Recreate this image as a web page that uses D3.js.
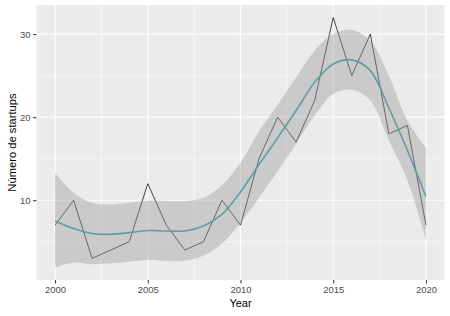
<!DOCTYPE html>
<html>
<head>
<meta charset="utf-8">
<script src="https://cdn.jsdelivr.net/npm/d3@7"></script>
<style>
  html, body { margin: 0; padding: 0; background: #ffffff; }
  svg { display: block; font-family: "Liberation Sans", Arial, sans-serif; }
</style>
</head>
<body>
<svg id="chart" width="450" height="316"></svg>
<script>
// ---- data ----
const years = [2000,2001,2002,2003,2004,2005,2006,2007,2008,2009,2010,2011,2012,2013,2014,2015,2016,2017,2018,2019,2020];
const startups = [7,10,3,4,5,12,7,4,5,10,7,15,20,17,22,32,25,30,18,19,7];
const smoothFit = [7.5,6.6,6.0,5.9,6.1,6.35,6.3,6.3,6.9,8.3,11.0,14.3,17.5,20.8,24.2,26.4,26.9,25.6,21.1,16.0,10.45];
const smoothUpper = [13.3,10.9,9.7,9.5,9.7,9.95,9.9,9.9,10.3,11.8,14.5,18.3,21.5,24.8,28.0,30.0,30.5,29.2,25.0,19.6,16.3];
const smoothLower = [1.9,2.5,2.3,2.4,2.6,2.8,2.7,2.7,3.3,4.8,7.3,10.3,13.5,16.8,20.2,22.8,23.3,22.0,17.2,12.4,5.2];
const xTicks = [2000,2005,2010,2015,2020];
const yTicks = [10,20,30];
const xMinor = [2002.5,2007.5,2012.5,2017.5];
const yMinor = [5,15,25];
const xTitle = "Year";
const yTitle = "Número de startups";

const W = 450, H = 316;
const margin = {left: 36.5, right: 5.5, top: 5, bottom: 36};
const pw = W - margin.left - margin.right;
const ph = H - margin.top - margin.bottom;

const svg = d3.select("#chart");
const g = svg.append("g").attr("transform", `translate(${margin.left},${margin.top})`);

const rows = years.map((y, i) => ({year: y, v: startups[i], fit: smoothFit[i], lo: smoothLower[i], hi: smoothUpper[i]}));

// ggplot-like 5% expansion on continuous scales
const xr = d3.extent(years), xs = (xr[1]-xr[0])*0.05;
const allY = startups.concat(smoothUpper, smoothLower);
const yr = d3.extent(allY), ys = (yr[1]-yr[0])*0.05;

const x = d3.scaleLinear().domain([xr[0]-xs, xr[1]+xs]).range([0, pw]);
const y = d3.scaleLinear().domain([yr[0]-ys, yr[1]+ys]).range([ph, 0]);

// panel background
g.append("rect").attr("width", pw).attr("height", ph).attr("fill", "#EBEBEB");

// minor grid
g.selectAll(".xminor").data(xMinor).enter().append("line")
  .attr("x1", d => x(d)).attr("x2", d => x(d)).attr("y1", 0).attr("y2", ph)
  .attr("stroke", "#ffffff").attr("stroke-width", 0.55);
g.selectAll(".yminor").data(yMinor).enter().append("line")
  .attr("y1", d => y(d)).attr("y2", d => y(d)).attr("x1", 0).attr("x2", pw)
  .attr("stroke", "#ffffff").attr("stroke-width", 0.55);
// major grid
g.selectAll(".xmajor").data(xTicks).enter().append("line")
  .attr("x1", d => x(d)).attr("x2", d => x(d)).attr("y1", 0).attr("y2", ph)
  .attr("stroke", "#ffffff").attr("stroke-width", 1.1);
g.selectAll(".ymajor").data(yTicks).enter().append("line")
  .attr("y1", d => y(d)).attr("y2", d => y(d)).attr("x1", 0).attr("x2", pw)
  .attr("stroke", "#ffffff").attr("stroke-width", 1.1);

// data line
const line = d3.line().x(d => x(d.year)).y(d => y(d.v));
g.append("path").datum(rows).attr("d", line)
  .attr("fill", "none").attr("stroke", "#1a1a1a").attr("stroke-width", 0.8);

// confidence ribbon
const area = d3.area().x(d => x(d.year)).y0(d => y(d.lo)).y1(d => y(d.hi))
  .curve(d3.curveCatmullRom.alpha(0.5));
g.append("path").datum(rows).attr("d", area)
  .attr("fill", "#999999").attr("fill-opacity", 0.4);

// smooth line
const sline = d3.line().x(d => x(d.year)).y(d => y(d.fit)).curve(d3.curveCatmullRom.alpha(0.5));
g.append("path").datum(rows).attr("d", sline)
  .attr("fill", "none").attr("stroke", "#5F9EA0").attr("stroke-width", 1.6);

// axes
const xAxis = d3.axisBottom(x).tickValues(xTicks).tickFormat(d3.format("d")).tickSize(3.5).tickPadding(2.5);
const yAxis = d3.axisLeft(y).tickValues(yTicks).tickFormat(d3.format("d")).tickSize(3.5).tickPadding(2.5);

const gx = g.append("g").attr("transform", `translate(0,${ph})`).call(xAxis);
const gy = g.append("g").call(yAxis);
[gx, gy].forEach(a => {
  a.select(".domain").remove();
  a.selectAll(".tick line").attr("stroke", "#333333").attr("stroke-width", 1);
  a.selectAll(".tick text").attr("fill", "#4D4D4D").style("font-size", "9.5px")
    .style("font-family", '"Liberation Sans", Arial, sans-serif');
});

// titles
svg.append("text").attr("x", margin.left + pw/2).attr("y", 307)
  .attr("text-anchor", "middle").attr("fill", "#000000")
  .style("font-size", "11px").text(xTitle);
svg.append("text")
  .attr("transform", `translate(16,${margin.top + ph/2}) rotate(-90)`)
  .attr("text-anchor", "middle").attr("fill", "#000000")
  .style("font-size", "11.2px").text(yTitle);
</script>
</body>
</html>
